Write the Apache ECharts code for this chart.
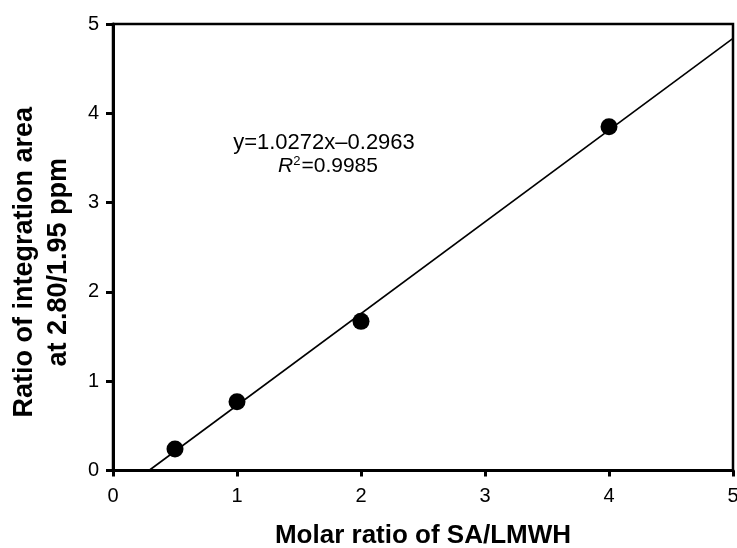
<!DOCTYPE html>
<html>
<head>
<meta charset="utf-8">
<script src="https://cdn.jsdelivr.net/npm/echarts@6/dist/echarts.min.js"></script>
<style>html,body{margin:0;padding:0;background:#fff;}#c{width:737px;height:548px;}</style>
</head>
<body>
<div id="c"></div>
<script>
var xTicks = [0, 1, 2, 3, 4, 5];
var yTicks = [0, 1, 2, 3, 4, 5];
var molarRatio = [0.5, 1, 2, 4];
var areaRatio = [0.24, 0.77, 1.67, 3.85];
var fitLineX = [0.29, 5];
var fitLineY = [0, 4.84];
var equationText = 'y=1.0272x\u20130.2963';
var r2Text = '0.9985';

var points = molarRatio.map(function (x, i) { return [x, areaRatio[i]]; });
var fit = fitLineX.map(function (x, i) { return [x, fitLineY[i]]; });

var chart = echarts.init(document.getElementById('c'));
var font = 'Liberation Sans, Arial, sans-serif';
chart.setOption({
  animation: false,
  grid: { left: 113, top: 24, right: 4, bottom: 77.5, show: true, borderColor: '#000', borderWidth: 2.5, outerBoundsMode: 'none', containLabel: false },
  xAxis: {
    type: 'value', min: xTicks[0], max: xTicks[xTicks.length - 1], interval: 1,
    name: 'Molar ratio of SA/LMWH', nameLocation: 'middle', nameGap: 52,
    nameTextStyle: { fontFamily: font, fontSize: 26, fontWeight: 'bold', color: '#000' },
    axisLine: { show: true, lineStyle: { color: '#000', width: 3 } },
    axisTick: { show: true, length: 6, lineStyle: { color: '#000', width: 3 } },
    axisLabel: { fontFamily: font, fontSize: 20, color: '#000', margin: 16 },
    splitLine: { show: false }
  },
  yAxis: {
    type: 'value', min: yTicks[0], max: yTicks[yTicks.length - 1], interval: 1,
    name: 'Ratio of integration area\nat 2.80/1.95 ppm', nameLocation: 'middle', nameGap: 37,
    nameTextStyle: { fontFamily: font, fontSize: 27, fontWeight: 'bold', color: '#000', lineHeight: 34, padding: [0, 30, 0, 0] },
    axisLine: { show: true, lineStyle: { color: '#000', width: 3 } },
    axisTick: { show: true, length: 7, lineStyle: { color: '#000', width: 3 } },
    axisLabel: { fontFamily: font, fontSize: 20, color: '#000', margin: 14 },
    splitLine: { show: false }
  },
  graphic: [
    { type: 'text', x: 324, y: 143, style: { text: equationText, align: 'center', verticalAlign: 'middle', fontFamily: font, fontSize: 22, fill: '#000' } },
    { type: 'text', x: 328, y: 166, style: { rich: { i: { fontStyle: 'italic', fontFamily: font, fontSize: 21 }, s: { fontFamily: font, fontSize: 13, verticalAlign: 'top', padding: [0, 1, 10, 0] }, n: { fontFamily: font, fontSize: 21 } }, text: '{i|R}{s|2}{n|=' + r2Text + '}', align: 'center', verticalAlign: 'middle', fill: '#000' } }
  ],
  series: [
    { type: 'line', data: fit, showSymbol: false, symbol: 'none', lineStyle: { color: '#000', width: 1.6 }, silent: true },
    { type: 'scatter', data: points, symbol: 'circle', symbolSize: 17, itemStyle: { color: '#000', opacity: 1 } }
  ]
});
</script>
</body>
</html>
